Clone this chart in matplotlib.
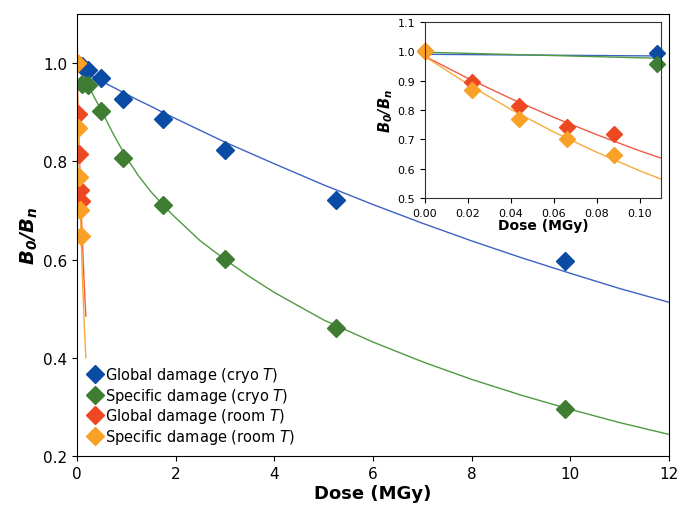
import matplotlib
matplotlib.use("Agg")
import matplotlib.pyplot as plt

plt.rcParams['font.family'] = 'DejaVu Sans'
plt.rcParams['mathtext.fontset'] = 'custom'
plt.rcParams['mathtext.bf'] = 'DejaVu Sans:italic:bold'
plt.rcParams['mathtext.it'] = 'DejaVu Sans:italic'
plt.rcParams['mathtext.rm'] = 'DejaVu Sans'

# measured points
cryo_dose = [0.108, 0.22, 0.49, 0.94, 1.75, 3.0, 5.24, 9.9]
global_cryo = [0.995, 0.985, 0.969, 0.926, 0.886, 0.823, 0.722, 0.598]
specific_cryo = [0.958, 0.955, 0.902, 0.807, 0.711, 0.601, 0.461, 0.295]

room_dose = [0.0, 0.022, 0.044, 0.066, 0.088]
global_room = [1.0, 0.897, 0.814, 0.741, 0.719]
specific_room = [1.0, 0.867, 0.769, 0.701, 0.648]

# fitted curves
fit_cryo_dose = [0, 0.25, 0.5, 0.75, 1, 1.25, 1.5, 1.75, 2, 2.5, 3, 3.5, 4,
                 5, 6, 7, 8, 9, 10, 11, 12]
fit_global_cryo = [0.990, 0.977, 0.963, 0.950, 0.937, 0.924, 0.912, 0.899, 0.887,
                   0.863, 0.839, 0.817, 0.795, 0.752, 0.712, 0.674, 0.638, 0.604,
                   0.572, 0.541, 0.513]
fit_specific_cryo = [0.997, 0.950, 0.902, 0.853, 0.808, 0.770, 0.738, 0.710, 0.685,
                     0.638, 0.600, 0.565, 0.533, 0.477, 0.432, 0.392, 0.356, 0.324,
                     0.295, 0.268, 0.244]

fit_room_dose = [0, 0.02, 0.04, 0.06, 0.08, 0.10, 0.12, 0.14, 0.16, 0.18]
fit_global_room = [0.983, 0.908, 0.839, 0.775, 0.716, 0.661, 0.611, 0.564, 0.521, 0.485]
fit_specific_room = [0.982, 0.888, 0.802, 0.725, 0.656, 0.593, 0.536, 0.484, 0.438, 0.400]

c_blue, c_blue_l = '#0a4ba3', '#3d62c4'
c_green, c_green_l = '#3f7d33', '#4f9a41'
c_red, c_red_l = '#ee4822', '#f05c45'
c_orng, c_orng_l = '#f9a027', '#f7ab3a'

fig = plt.figure(figsize=(6.79, 5.10), dpi=100)
ax = fig.add_axes([0.1134, 0.1039, 0.8719, 0.8667])

ax.plot(fit_cryo_dose, fit_global_cryo, color=c_blue_l, lw=1)
ax.plot(fit_cryo_dose, fit_specific_cryo, color=c_green_l, lw=1)
ax.plot(fit_room_dose, fit_global_room, color=c_red_l, lw=1)
ax.plot(fit_room_dose, fit_specific_room, color=c_orng_l, lw=1)

ms = 9
ax.plot(cryo_dose, global_cryo, 'D', color=c_blue, ms=ms, ls='none', label='Global damage (cryo $\\mathit{T}$)')
ax.plot(cryo_dose, specific_cryo, 'D', color=c_green, ms=ms, ls='none', label='Specific damage (cryo $\\mathit{T}$)')
ax.plot(room_dose, global_room, 'D', color=c_red, ms=ms, ls='none', label='Global damage (room $\\mathit{T}$)')
ax.plot(room_dose, specific_room, 'D', color=c_orng, ms=ms, ls='none', label='Specific damage (room $\\mathit{T}$)')

ax.set_xlim(0, 12)
ax.set_ylim(0.2, 1.1)
ax.set_xticks([0, 2, 4, 6, 8, 10, 12])
ax.set_yticks([0.2, 0.4, 0.6, 0.8, 1.0])
ax.tick_params(labelsize=11)
ax.set_xlabel('Dose (MGy)', fontsize=13, fontweight='bold', labelpad=2)
ax.set_ylabel('$\\mathbf{B_0/B_n}$', fontsize=14, labelpad=2)
ax.legend(loc='lower left', frameon=False, fontsize=10.5, handletextpad=0.1,
          borderaxespad=0.3, labelspacing=0.1, handlelength=1.1)

# inset
ins = fig.add_axes([0.626, 0.6098, 0.3476, 0.345])
ins.plot(fit_cryo_dose, fit_global_cryo, color=c_blue_l, lw=1)
ins.plot(fit_cryo_dose, fit_specific_cryo, color=c_green_l, lw=1)
ins.plot(fit_room_dose, fit_global_room, color=c_red_l, lw=1)
ins.plot(fit_room_dose, fit_specific_room, color=c_orng_l, lw=1)
ims = 8.5
ins.plot(cryo_dose, global_cryo, 'D', color=c_blue, ms=ims, ls='none', clip_on=False)
ins.plot(cryo_dose, specific_cryo, 'D', color=c_green, ms=ims, ls='none', clip_on=False)
ins.plot(room_dose, global_room, 'D', color=c_red, ms=ims, ls='none', clip_on=False)
ins.plot(room_dose, specific_room, 'D', color=c_orng, ms=ims, ls='none', clip_on=False)
ins.set_xlim(0, 0.11)
ins.set_ylim(0.5, 1.1)
ins.set_xticks([0, 0.02, 0.04, 0.06, 0.08, 0.10])
ins.set_xticklabels(['0.00', '0.02', '0.04', '0.06', '0.08', '0.10'])
ins.set_yticks([0.5, 0.6, 0.7, 0.8, 0.9, 1.0, 1.1])
ins.tick_params(labelsize=8)
ins.set_xlabel('Dose (MGy)', fontsize=10, fontweight='bold', labelpad=0)
ins.set_ylabel('$\\mathbf{B_0/B_n}$', fontsize=10.5, labelpad=2)
for sp in ins.spines.values():
    sp.set_color('#333333')

fig.savefig('out.png', dpi=100)
